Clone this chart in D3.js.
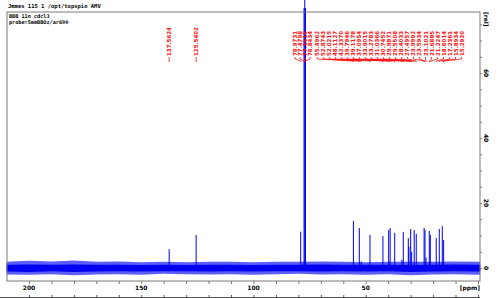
<!DOCTYPE html>
<html>
<head>
<meta charset="utf-8">
<script src="https://cdn.jsdelivr.net/npm/d3@7"></script>
<style>
  body { margin: 0; background: #fff; }
  svg { display: block; }
</style>
</head>
<body>
<div id="canvas"></div>
<script>
"use strict";

// header lines (top left)
let headerLines = ["Jmmes 115 1 /opt/topspin AMV"];
let titleLines = ["BBB 11n cdcl3", "probe=5mmBBOz/ar690"];

// peaks: ppm (also the label text) and height in rel units
let peakPpm = [137.5624, 125.5402,
  78.9731, 77.4798, 77.1616, 76.8434,
  55.4962, 52.8743, 52.0215, 48.1127, 42.3370, 39.7946, 39.1178, 37.0954,
  33.9015, 33.2783, 31.0366, 30.7452, 29.9871, 29.5508, 28.4033, 27.4957,
  23.9992, 23.5934, 23.1021, 21.6885, 21.2247, 18.6014, 17.2361, 15.8934, 15.2920];
let peakHeight = [5.8, 10.2,
  11.2, 80, 83, 80,
  14.5, 12.3, 2.0, 10.2, 9.8, 11.7, 12.3, 10.8,
  2.5, 11.1, 9.2, 6.5, 12.0, 5.0, 11.7, 10.5,
  12.3, 11.7, 3.2, 11.4, 10.2, 9.2, 12.0, 12.9, 8.6];

// label groups: first/last peak index and ppm span the labels are spread over
let labelGroups = [
  { from: 2, to: 5, span: [81.5, 74.8] },
  { from: 6, to: 30, span: [71.6, 7.3] }
];

// baseline noise envelope
let noisePpm = [210, 200, 190, 180, 170, 160, 150, 140, 130, 120, 110, 100, 90, 80, 70, 60, 50, 40, 30, 20, 10, 0, -1];
let noiseHi = [1.9, 2.2, 2.0, 2.3, 1.9, 2.0, 1.8, 1.9, 1.8, 1.9, 1.9, 1.8, 1.9, 1.9, 2.0, 1.9, 1.8, 1.9, 1.9, 1.9, 2.0, 1.9, 1.9];
let noiseLo = [-2.0, -2.1, -1.9, -2.2, -2.0, -1.9, -2.1, -1.8, -1.9, -2.0, -1.9, -2.1, -1.9, -1.8, -2.0, -1.9, -2.1, -1.9, -2.2, -2.0, -1.9, -2.1, -2.0];
let coreHi = [1.0, 1.1, 1.0, 1.1, 1.0, 1.0, 0.9, 1.0, 0.9, 1.0, 1.0, 0.9, 1.0, 1.0, 1.1, 1.0, 1.0, 1.0, 0.9, 1.0, 1.1, 1.0, 1.0];
let coreLo = [-1.1, -1.2, -1.0, -1.2, -1.1, -1.0, -1.1, -1.0, -1.0, -1.1, -1.0, -1.1, -1.0, -1.0, -1.1, -1.0, -1.1, -1.0, -1.2, -1.1, -1.0, -1.1, -1.1];

let xTicks = [200, 150, 100, 50];
let yTicks = [0, 20, 40, 60];

let width = 500, height = 298;
let mLeft = 7, mRight = 480, mTop = 12, mBottom = 281;

let svg = d3.select("#canvas").append("svg")
  .attr("width", width).attr("height", height);

svg.append("rect").attr("width", width).attr("height", height).attr("fill", "#fff");

let x = d3.scaleLinear().domain([209.8, -0.9]).range([mLeft, mRight]);
let y = d3.scaleLinear().domain([-4, 78.8]).range([mBottom, mTop]);

let blue = "#0000f0";
let red = "#ff1010";

// noise band
let idx = d3.range(noisePpm.length);
let band = (hi, lo) => d3.area()
  .x(i => x(noisePpm[i])).y0(i => y(lo[i])).y1(i => y(hi[i]));
svg.append("path").attr("d", band(noiseHi, noiseLo)(idx))
  .attr("fill", "#5c5cff");
svg.append("path").attr("d", band(coreHi, coreLo)(idx))
  .attr("fill", blue);

// peaks
svg.selectAll("line.peak")
  .data(peakPpm)
  .enter().append("line")
  .attr("class", "peak")
  .attr("x1", d => x(d)).attr("x2", d => x(d))
  .attr("y1", y(0))
  .attr("y2", (d, i) => y(peakHeight[i]))
  .attr("stroke", blue)
  .attr("stroke-width", 1);

// frame
let frame = "#7a7a7a";
svg.append("rect")
  .attr("x", mLeft).attr("y", mTop)
  .attr("width", mRight - mLeft).attr("height", mBottom - mTop)
  .attr("fill", "none").attr("stroke", frame).attr("stroke-width", 1);

// x axis (bottom)
let xAxis = svg.append("g").attr("transform", `translate(0,${mBottom})`)
  .call(d3.axisBottom(x).tickValues(d3.range(0, 210, 10)).tickSize(3).tickFormat(""));
xAxis.select(".domain").remove();
xAxis.selectAll("line").attr("stroke", frame);
svg.selectAll("text.xt").data(xTicks).enter().append("text")
  .attr("class", "xt")
  .attr("x", d => x(d)).attr("y", mBottom + 9)
  .attr("text-anchor", "middle")
  .style("font", "bold 6px 'DejaVu Sans'")
  .text(d => d);
svg.append("text").attr("x", mRight).attr("y", mBottom + 9)
  .attr("text-anchor", "end")
  .style("font", "bold 6px 'DejaVu Sans'")
  .text("[ppm]");

// lower window edge with ticks
svg.append("line").attr("x1", 0).attr("x2", mRight).attr("y1", 297.5).attr("y2", 297.5)
  .attr("stroke", "#555");
let xAxis2 = svg.append("g").attr("transform", "translate(0,297)")
  .call(d3.axisTop(x).tickValues(d3.range(0, 210, 10)).tickSize(2).tickFormat(""));
xAxis2.select(".domain").remove();
xAxis2.selectAll("line").attr("stroke", "#555");

// y axis (right)
let yAxis = svg.append("g").attr("transform", `translate(${mRight},0)`)
  .call(d3.axisRight(y).tickValues(d3.range(0, 80, 5)).tickSize(2).tickFormat(""));
yAxis.select(".domain").remove();
yAxis.selectAll("line").attr("stroke", frame);
svg.selectAll("text.yt").data(yTicks).enter().append("text")
  .attr("class", "yt")
  .attr("transform", d => `translate(${mRight + 4},${y(d)}) rotate(90)`)
  .attr("text-anchor", "middle")
  .style("font", "bold 6px 'DejaVu Sans'")
  .text(d => d);
svg.append("text")
  .attr("transform", `translate(${mRight + 4},${mTop}) rotate(90)`)
  .attr("text-anchor", "start")
  .style("font", "bold 6px 'DejaVu Sans'")
  .text("[rel]");

// header text
svg.selectAll("text.hd").data(headerLines).enter().append("text")
  .attr("class", "hd")
  .attr("x", 8).attr("y", 8)
  .style("font", "bold 5.5px 'DejaVu Sans Mono'")
  .text(d => d);
svg.selectAll("text.tl").data(titleLines).enter().append("text")
  .attr("class", "tl")
  .attr("x", 9).attr("y", (d, i) => 18 + i * 6)
  .style("font", "bold 5.2px 'DejaVu Sans Mono'")
  .text(d => d);

// label positions
let labelX = peakPpm.map(d => x(d));
labelGroups.forEach(g => {
  let n = g.to - g.from + 1;
  let pos = d3.scalePoint().domain(d3.range(n)).range(g.span.map(x));
  for (let k = 0; k < n; k++) labelX[g.from + k] = pos(k);
});

let labTop = 57;
svg.selectAll("path.lead").data(peakPpm).enter().append("path")
  .attr("class", "lead")
  .attr("d", (d, i) => `M${labelX[i]},${labTop}V${labTop + 2}L${x(d)},${labTop + 4}V${labTop + 5}`)
  .attr("fill", "none").attr("stroke", red).attr("stroke-width", 0.8);

svg.selectAll("text.pk").data(peakPpm).enter().append("text")
  .attr("class", "pk")
  .attr("transform", (d, i) => `translate(${labelX[i] + 2},${labTop - 1}) rotate(-90)`)
  .attr("text-anchor", "start")
  .style("font", "bold 5.5px 'DejaVu Sans'")
  .attr("fill", red)
  .text(d => d.toFixed(4));
</script>
</body>
</html>
